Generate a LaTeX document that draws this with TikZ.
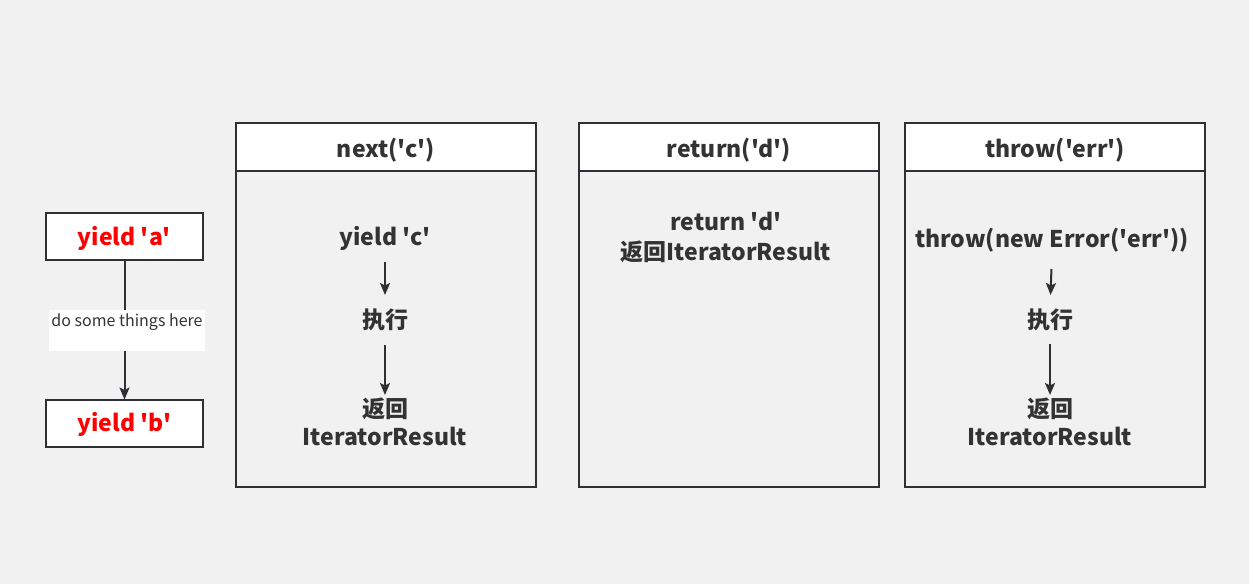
\documentclass[tikz,border=0pt]{standalone}
\usepackage{fontspec}
\newfontfamily\cjk{Noto Sans CJK SC}
\usetikzlibrary{arrows.meta}
\definecolor{bg}{HTML}{F1F1F1}
\definecolor{ln}{HTML}{2E3033}
\definecolor{tx}{HTML}{333333}
\begin{document}
\begin{tikzpicture}[x=1pt,y=-1pt,
  bigfont/.style={font=\cjk\bfseries\fontsize{23}{28}\selectfont},
  yieldbox/.style={draw=ln,line width=2pt,fill=white,inner sep=0pt,outer sep=0pt,minimum width=157pt,minimum height=47pt,text=red,bigfont,text height=19pt,text depth=2pt},
  header/.style={draw=ln,line width=2pt,fill=white,inner sep=0pt,outer sep=0pt,minimum width=300pt,minimum height=48pt,text=tx,bigfont,text height=22pt,text depth=2pt},
  body/.style={draw=ln,line width=2pt,inner sep=0pt,outer sep=0pt,minimum width=300pt,minimum height=316pt},
  txt/.style={inner sep=0pt,outer sep=0pt,anchor=base,text=tx,bigfont,text height=17pt,text depth=5pt},
  arr/.style={draw=ln,line width=2pt,-{Stealth[length=12pt,width=10pt,inset=2.5pt]}},
  lbl/.style={fill=white,inner sep=0pt,minimum width=156pt,text height=16.7pt,text depth=24.3pt,text=tx,font=\cjk\fontsize{16}{19}\selectfont}
]
\useasboundingbox (0,0) rectangle (1249,584);
\fill[bg] (0,0) rectangle (1249,584);

% left
\node[yieldbox] (ya) at (124.5,236.5) {yield 'a'};
\node[yieldbox] (yb) at (124.5,423) {yield 'b'};
\draw[arr] (ya.south) -- (yb.north);
\node[lbl,anchor=north] (do) at (127,310) {do some things here};

% panel 1
\node[header] (h1) at (386,147) {next('c')};
\node[body,anchor=north] (b1) at (h1.south) {};
\node[txt] (c1) at (385,245) {yield 'c'};
\node[txt] (e1) at (385,328) {执行};
\node[txt] (r1) at (385,417) {返回};
\node[txt] (i1) at (385,445) {IteratorResult};
\draw[arr,shorten <=12pt,shorten >=16pt] (c1.south) -- (e1.north);
\draw[arr,shorten <=12pt,shorten >=5pt] (e1.south) -- (r1.north);

% panel 2
\node[header] (h2) at (729,147) {return('d')};
\node[body,anchor=north] (b2) at (h2.south) {};
\node[txt] (c2) at (726,230) {return 'd'};
\node[txt] (i2) at (726,260) {返回IteratorResult};

% panel 3
\node[header] (h3) at (1055,147) {throw('err')};
\node[body,anchor=north] (b3) at (h3.south) {};
\node[txt] (c3) at (1052,247) {throw(new Error('err'))};
\node[txt] (e3) at (1050,328) {执行};
\node[txt] (r3) at (1050,417) {返回};
\node[txt] (i3) at (1050,445) {IteratorResult};
\draw[arr,shorten <=17pt,shorten >=16pt] (c3.south) -- (e3.north);
\draw[arr,shorten <=11pt,shorten >=5pt] (e3.south) -- (r3.north);
\end{tikzpicture}
\end{document}
